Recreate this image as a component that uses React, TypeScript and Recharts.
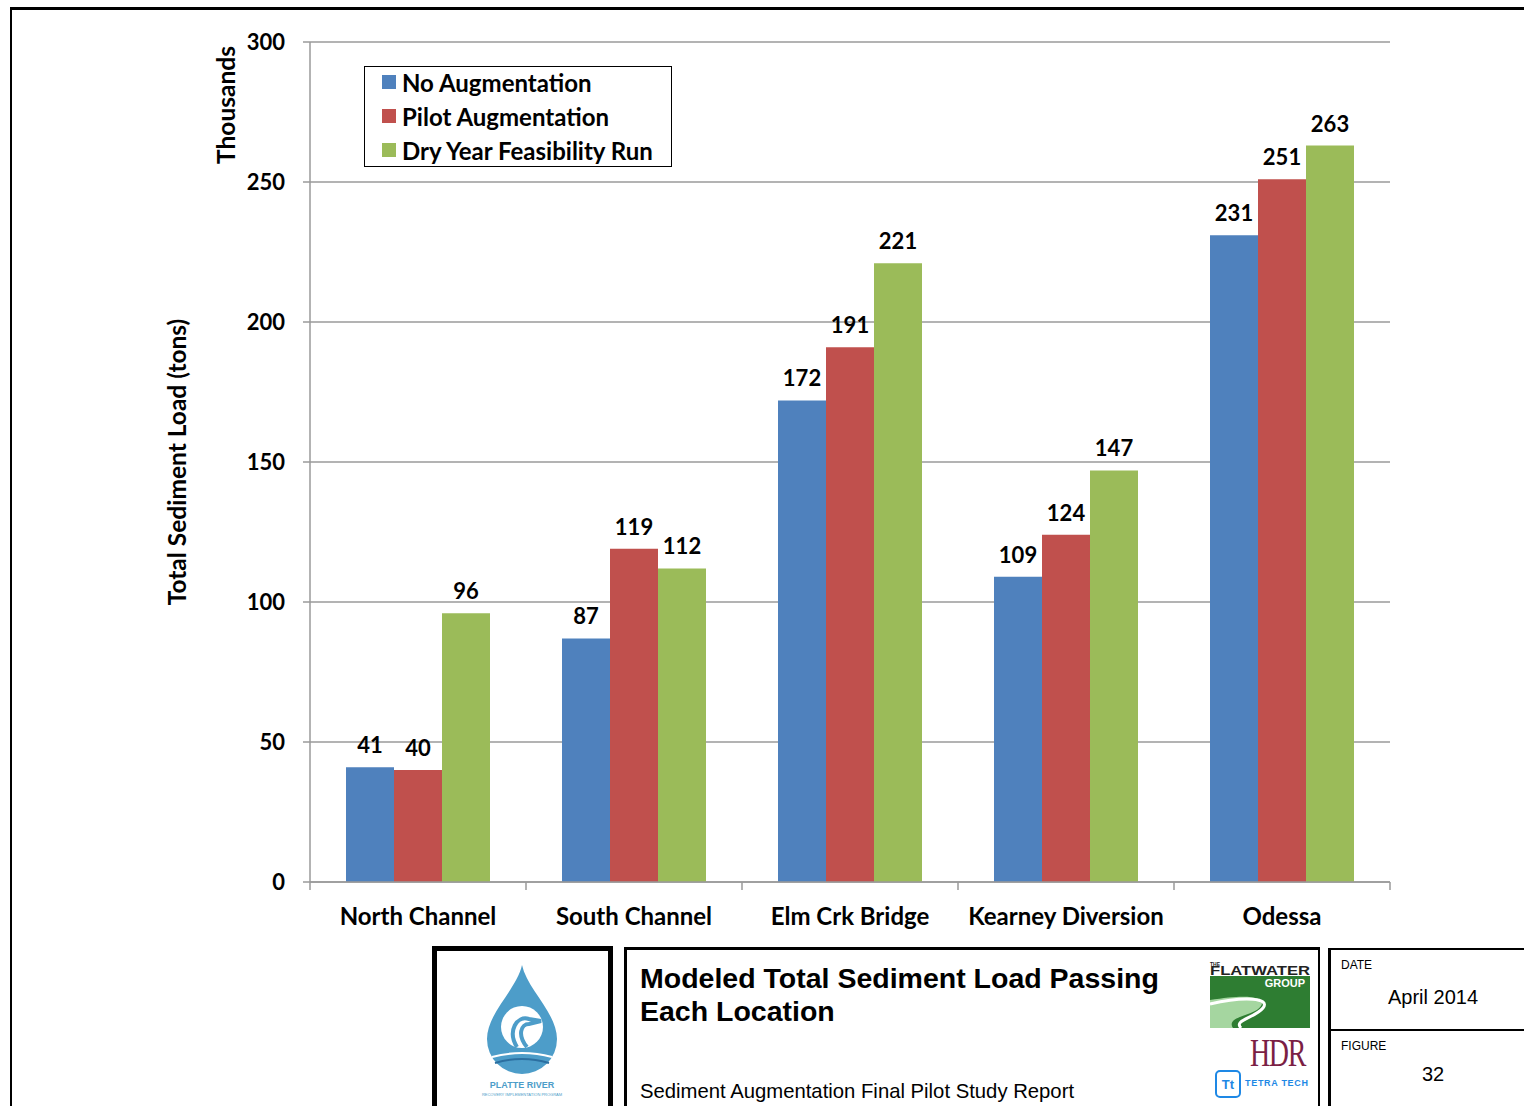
import React from 'react';
import { BarChart, Bar, XAxis, YAxis, CartesianGrid, Legend, LabelList } from 'recharts';

const locations = ['North Channel', 'South Channel', 'Elm Crk Bridge', 'Kearney Diversion', 'Odessa'];
const seriesNames = ['No Augmentation', 'Pilot Augmentation', 'Dry Year Feasibility Run'];
const noAugmentation = [41, 87, 172, 109, 231];
const pilotAugmentation = [40, 119, 191, 124, 251];
const dryYearRun = [96, 112, 221, 147, 263];
const yTicks = [0, 50, 100, 150, 200, 250, 300];

const data = locations.map((name, i) => ({
    name,
    noAug: noAugmentation[i],
    pilot: pilotAugmentation[i],
    dry: dryYearRun[i],
}));

const FONT = 'Lato, "Open Sans", sans-serif';
const ARIAL = '"Liberation Sans", Arial, sans-serif';
const GRID = '#9a9a9a';
const CAT_MARGIN = 26;

const LegendBox = (props: any) => {
    const items = [...(props.payload || [])].sort(
        (a: any, b: any) => seriesNames.indexOf(a.value) - seriesNames.indexOf(b.value)
    );
    return (
        <div
            style={{
                border: '1px solid #000',
                background: '#fff',
                width: 308,
                height: 101,
                paddingLeft: 17,
                paddingTop: 0,
                boxSizing: 'border-box',
                fontFamily: FONT,
                fontWeight: 700,
                fontSize: 24,
                color: '#000',
            }}
        >
            <div style={{ marginTop: -2 }}>
                {items.map((p: any) => (
                    <div key={p.value} style={{ display: 'flex', alignItems: 'center', height: 34 }}>
                        <span style={{ width: 14, height: 14, background: p.color, marginRight: 6, display: 'inline-block' }} />
                        <span>{p.value}</span>
                    </div>
                ))}
            </div>
        </div>
    );
};

// category label plus the tick marks at the edges of each band (Excel style)
const CategoryTick = (props: any) => {
    const { x, y, payload, index, visibleTicksCount } = props;
    const half = payload && payload.offset ? payload.offset : 0;
    const axisY = y - CAT_MARGIN;
    const isLast = index === (visibleTicksCount ?? locations.length) - 1;
    return (
        <g>
            <line x1={x - half} x2={x - half} y1={axisY} y2={axisY + 8} stroke={GRID} strokeWidth={1.5} />
            {isLast && <line x1={x + half} x2={x + half} y1={axisY} y2={axisY + 8} stroke={GRID} strokeWidth={1.5} />}
            <text x={x} y={y} dy="0.71em" textAnchor="middle" fill="#000" fontSize={24} fontWeight={700} fontFamily={FONT}>
                {payload.value}
            </text>
        </g>
    );
};

const boxLine = '#000';

const TitleBlock = () => (
    <>
        {/* logo box */}
        <div style={{ position: 'absolute', left: 432, top: 946, width: 181, height: 170, border: `5px solid ${boxLine}`, boxSizing: 'border-box' }}>
            <svg width={171} height={160} style={{ position: 'absolute', left: 0, top: 0 }}>
                <path d="M85 14 C 80 38, 50 62, 50 88 A 35 35 0 0 0 120 88 C 120 62, 90 38, 85 14 Z" fill="#4d9dc9" />
                <circle cx={85} cy={76} r={21} fill="#fff" />
                <path d="M80 96 C 70 80, 80 64, 92 68 L 104 70 L 92 73 C 84 73, 80 84, 90 96" stroke="#4d9dc9" strokeWidth={4} fill="none" />
                <path d="M55 106 Q 85 98 115 106" stroke="#fff" strokeWidth={2} fill="none" />
                <path d="M58 112 Q 85 104 112 112" stroke="#2c6fa0" strokeWidth={2} fill="none" />
                <text x={85} y={137} textAnchor="middle" fontSize={9} fontWeight={700} fill="#4d9dc9" fontFamily={ARIAL}>PLATTE RIVER</text>
                <text x={85} y={145} textAnchor="middle" fontSize={4} fill="#4d9dc9" fontFamily={ARIAL}>RECOVERY IMPLEMENTATION PROGRAM</text>
            </svg>
        </div>
        {/* main title box */}
        <div style={{ position: 'absolute', left: 624, top: 947, width: 696, height: 170, borderTop: `3px solid ${boxLine}`, borderLeft: `3px solid ${boxLine}`, borderRight: `2px solid ${boxLine}`, boxSizing: 'border-box' }} />
        <div style={{ position: 'absolute', left: 640, top: 962, fontFamily: ARIAL, fontWeight: 700, fontSize: 28.5, lineHeight: '33px', color: '#000', whiteSpace: 'nowrap' }}>
            Modeled Total Sediment Load Passing<br />Each Location
        </div>
        <div style={{ position: 'absolute', left: 640, top: 1080, fontFamily: ARIAL, fontSize: 20.3, color: '#000', whiteSpace: 'nowrap' }}>
            Sediment Augmentation Final Pilot Study Report
        </div>
        {/* partner logos */}
        <svg width={110} height={145} style={{ position: 'absolute', left: 1205, top: 960 }}>
            <text x={5} y={6} fontSize={5} fontWeight={700} fill="#222" fontFamily={ARIAL}>THE</text>
            <text x={5} y={15} fontSize={12} fontWeight={700} fill="#222" fontFamily={ARIAL} textLength={100} lengthAdjust="spacingAndGlyphs">FLATWATER</text>
            <rect x={5} y={16} width={100} height={52} fill="#2e7d32" />
            <path d="M5 68 L 5 40 C 40 34, 62 36, 56 46 C 50 56, 20 56, 28 68 Z" fill="#a5d6a0" />
            <path d="M5 44 C 40 36, 66 38, 58 48 C 50 58, 28 60, 36 68" stroke="#fff" strokeWidth={3} fill="none" />
            <text x={100} y={27} textAnchor="end" fontSize={11} fontWeight={700} fill="#fff" fontFamily={ARIAL}>GROUP</text>
            <g transform="translate(45 106) scale(0.7 1)">
                <text x={0} y={0} fontSize={40} fill="#7b1f45" fontFamily="Liberation Serif, serif" letterSpacing={-2}>HDR</text>
            </g>
            <rect x={11} y={111} width={24} height={26} rx={4} fill="none" stroke="#1e88e5" strokeWidth={2} />
            <text x={23} y={129} textAnchor="middle" fontSize={13} fontWeight={700} fill="#1e88e5" fontFamily={ARIAL}>Tt</text>
            <text x={40} y={126} fontSize={9} fontWeight={700} fill="#1e88e5" fontFamily={ARIAL} textLength={63}>TETRA TECH</text>
        </svg>
        {/* date / figure box */}
        <div style={{ position: 'absolute', left: 1328, top: 948, width: 210, height: 170, borderTop: `2px solid ${boxLine}`, borderLeft: `3px solid ${boxLine}`, boxSizing: 'border-box' }} />
        <div style={{ position: 'absolute', left: 1330, top: 1029, width: 200, height: 2, background: boxLine }} />
        <div style={{ position: 'absolute', left: 1341, top: 958, fontFamily: ARIAL, fontSize: 12, color: '#000' }}>DATE</div>
        <div style={{ position: 'absolute', left: 1333, width: 200, top: 986, textAlign: 'center', fontFamily: ARIAL, fontSize: 20, color: '#000' }}>April 2014</div>
        <div style={{ position: 'absolute', left: 1341, top: 1039, fontFamily: ARIAL, fontSize: 12, color: '#000' }}>FIGURE</div>
        <div style={{ position: 'absolute', left: 1333, width: 200, top: 1063, textAlign: 'center', fontFamily: ARIAL, fontSize: 20, color: '#000' }}>32</div>
    </>
);

const App: React.FC = () => {
    const labelStyle = { fill: '#000', fontSize: 22, fontWeight: 700, fontFamily: FONT };
    return (
        <div style={{ position: 'fixed', left: 0, top: 0, width: 1524, height: 1106, background: '#fff', overflow: 'hidden' }}>
            {/* outer frame */}
            <div style={{ position: 'absolute', left: 10, top: 7, width: 1514, height: 3, background: '#000' }} />
            <div style={{ position: 'absolute', left: 10, top: 7, width: 2, height: 1100, background: '#000' }} />

            <div style={{ position: 'absolute', left: 0, top: 0 }}>
                <BarChart
                    width={1500}
                    height={1000}
                    data={data}
                    margin={{ top: 42, right: 110, left: 210, bottom: 58 }}
                    barCategoryGap={36}
                    barGap={0}
                    style={{ fontFamily: FONT }}
                >
                    <CartesianGrid vertical={false} stroke={GRID} strokeWidth={1.5} />
                    <XAxis
                        dataKey="name"
                        height={60}
                        tickLine={false}
                        tickSize={0}
                        tickMargin={CAT_MARGIN}
                        axisLine={{ stroke: GRID, strokeWidth: 1.5 }}
                        tick={<CategoryTick />}
                        interval={0}
                    />
                    <YAxis
                        domain={[0, 300]}
                        ticks={yTicks}
                        width={100}
                        tickSize={7}
                        tickMargin={18}
                        axisLine={{ stroke: GRID, strokeWidth: 1.5 }}
                        tickLine={{ stroke: GRID, strokeWidth: 1.5 }}
                        tick={labelStyle}
                        interval={0}
                    />
                    <YAxis
                        yAxisId="right"
                        orientation="right"
                        domain={[0, 300]}
                        width={0}
                        tick={false}
                        tickLine={false}
                        axisLine={{ stroke: GRID, strokeWidth: 1.5 }}
                    />
                    <Legend
                        layout="vertical"
                        align="center"
                        verticalAlign="middle"
                        content={<LegendBox />}
                        wrapperStyle={{ position: 'absolute', left: 364, top: 66, width: 308, height: 101 }}
                    />
                    <Bar dataKey="noAug" name={seriesNames[0]} fill="#4f81bd" isAnimationActive={false}>
                        <LabelList dataKey="noAug" position="top" offset={14} style={labelStyle} />
                    </Bar>
                    <Bar dataKey="pilot" name={seriesNames[1]} fill="#c0504d" isAnimationActive={false}>
                        <LabelList dataKey="pilot" position="top" offset={14} style={labelStyle} />
                    </Bar>
                    <Bar dataKey="dry" name={seriesNames[2]} fill="#9bbb59" isAnimationActive={false}>
                        <LabelList dataKey="dry" position="top" offset={14} style={labelStyle} />
                    </Bar>
                </BarChart>
            </div>

            {/* axis titles */}
            <div style={{ position: 'absolute', left: 176, top: 462, transform: 'translate(-50%, -50%) rotate(-90deg)', fontFamily: FONT, fontWeight: 700, fontSize: 24.5, whiteSpace: 'nowrap', color: '#000' }}>
                Total Sediment Load (tons)
            </div>
            <div style={{ position: 'absolute', left: 225, top: 105, transform: 'translate(-50%, -50%) rotate(-90deg)', fontFamily: FONT, fontWeight: 700, fontSize: 24.5, whiteSpace: 'nowrap', color: '#000' }}>
                Thousands
            </div>

            <TitleBlock />
        </div>
    );
};

export default App;
